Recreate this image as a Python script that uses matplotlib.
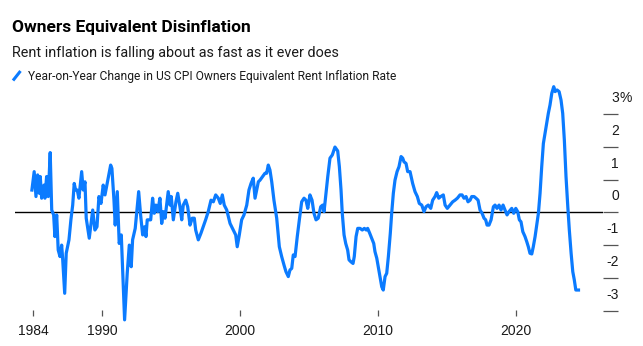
import matplotlib
matplotlib.use("Agg")
import matplotlib.pyplot as plt
import matplotlib.transforms as mtransforms
from matplotlib.lines import Line2D

# Year-on-year change in the US CPI owners' equivalent rent inflation rate (pct points)
dates = [
    1984.91, 1985.09, 1985.22, 1985.34, 1985.46, 1985.53, 1985.63, 1985.80, 1985.87, 1985.99,
    1986.11, 1986.25, 1986.36, 1986.50, 1986.59, 1986.72, 1986.83, 1986.96, 1987.08, 1987.15,
    1987.30, 1987.41, 1987.61, 1987.75, 1987.88, 1987.99, 1988.09, 1988.21, 1988.33, 1988.53,
    1988.64, 1988.77, 1988.86, 1989.08, 1989.33, 1989.49, 1989.64, 1989.78, 1989.93, 1990.09,
    1990.22, 1990.63, 1990.72, 1990.87, 1990.96, 1991.11, 1991.25, 1991.40, 1991.64, 1991.83,
    1991.98, 1992.12, 1992.22, 1992.41, 1992.66, 1992.80, 1992.95, 1993.09, 1993.19, 1993.28,
    1993.53, 1993.67, 1993.79, 1993.91, 1994.04, 1994.20, 1994.33, 1994.44, 1994.57, 1994.80,
    1994.93, 1995.02, 1995.17, 1995.36, 1995.49, 1995.65, 1995.78, 1995.89, 1996.07, 1996.21,
    1996.38, 1996.54, 1996.69, 1996.79, 1996.98, 1997.17, 1997.34, 1997.51, 1997.70, 1997.90,
    1998.07, 1998.24, 1998.43, 1998.57, 1998.72, 1998.86, 1999.04, 1999.28, 1999.51, 1999.69,
    1999.80, 1999.95, 2000.12, 2000.29, 2000.49, 2000.65, 2000.80, 2000.96, 2001.09, 2001.21,
    2001.33, 2001.45, 2001.64, 2001.81, 2001.93, 2002.05, 2002.17, 2002.30, 2002.46, 2002.66,
    2002.85, 2003.02, 2003.19, 2003.33, 2003.50, 2003.62, 2003.75, 2003.86, 2003.99, 2004.15,
    2004.30, 2004.47, 2004.64, 2004.78, 2004.91, 2005.07, 2005.22, 2005.36, 2005.51, 2005.67,
    2005.85, 2005.99, 2006.09, 2006.36, 2006.52, 2006.69, 2006.88, 2007.08, 2007.20, 2007.32,
    2007.41, 2007.54, 2007.66, 2007.80, 2007.90, 2008.04, 2008.19, 2008.28, 2008.41, 2008.53,
    2008.70, 2008.86, 2009.01, 2009.15, 2009.25, 2009.40, 2009.54, 2009.69, 2009.78, 2009.91,
    2010.02, 2010.14, 2010.27, 2010.38, 2010.51, 2010.63, 2010.75, 2010.89, 2010.99, 2011.11,
    2011.23, 2011.38, 2011.52, 2011.67, 2011.79, 2011.88, 2012.03, 2012.15, 2012.32, 2012.51,
    2012.68, 2012.85, 2012.99, 2013.17, 2013.33, 2013.48, 2013.64, 2013.82, 2013.96, 2014.13,
    2014.25, 2014.40, 2014.54, 2014.73, 2014.86, 2015.02, 2015.22, 2015.41, 2015.58, 2015.75,
    2015.94, 2016.09, 2016.23, 2016.38, 2016.52, 2016.67, 2016.79, 2016.96, 2017.10, 2017.25,
    2017.39, 2017.54, 2017.68, 2017.80, 2017.90, 2018.04, 2018.19, 2018.36, 2018.48, 2018.62,
    2018.77, 2018.91, 2019.06, 2019.20, 2019.35, 2019.49, 2019.69, 2019.83, 2019.98, 2020.12,
    2020.24, 2020.36, 2020.49, 2020.65, 2020.78, 2020.89, 2021.01, 2021.14, 2021.25, 2021.38,
    2021.50, 2021.62, 2021.74, 2021.86, 2021.98, 2022.10, 2022.22, 2022.34, 2022.46, 2022.59,
    2022.73, 2022.83, 2022.97, 2023.12, 2023.26, 2023.38, 2023.50, 2023.62, 2023.75, 2023.86,
    2023.99, 2024.11, 2024.22, 2024.33, 2024.64,
]
values = [
    0.63, 1.24, 0.48, 1.14, 0.58, 1.09, 0.43, 0.83, 0.43, 1.09,
    0.48, 1.82, 0.07, -0.08, -0.74, -0.08, -1.15, -1.35, -1.00, -1.40,
    -2.47, -1.25, -0.84, -0.23, 0.22, 0.88, 0.68, 0.68, 0.43, 1.24,
    0.68, 0.93, -0.18, -0.79, 0.07, -0.54, -0.44, 0.48, 0.27, 0.83,
    0.53, 1.44, 1.34, 0.37, -0.39, 0.63, -0.95, -0.69, -3.28, -1.86,
    -1.00, -1.66, -0.84, -0.49, 0.63, -0.08, -0.69, -0.44, -0.74, -0.23,
    -0.23, 0.43, -0.03, 0.22, 0.02, 0.43, -0.34, 0.02, -0.18, 0.63,
    0.22, 0.48, -0.23, 0.32, 0.58, 0.17, -0.23, 0.22, 0.37, 0.17,
    -0.39, -0.18, -0.18, -0.54, -0.84, -0.64, -0.44, -0.23, 0.02, 0.37,
    0.32, 0.53, 0.43, 0.27, 0.53, 0.22, 0.07, -0.34, -0.54, -0.69,
    -1.05, -0.69, -0.23, -0.08, 0.22, 0.68, 0.88, 1.04, 0.43, 0.68,
    0.93, 0.98, 1.09, 1.19, 1.19, 1.44, 1.29, 0.93, 0.37, -0.18,
    -1.05, -1.35, -1.61, -1.81, -1.96, -1.76, -1.71, -1.30, -1.35, -0.74,
    -0.23, 0.32, 0.43, 0.37, 0.12, 0.53, 0.37, -0.03, -0.23, -0.18,
    0.17, 0.22, 0.02, 1.09, 1.65, 1.75, 1.99, 1.87, 1.39, 0.68,
    -0.03, -0.69, -0.95, -1.15, -1.45, -1.51, -1.56, -1.35, -0.74, -0.49,
    -0.49, -0.54, -0.49, -0.54, -0.49, -0.64, -0.79, -0.95, -1.20, -1.40,
    -1.66, -1.96, -2.27, -2.37, -1.96, -1.86, -1.35, -0.64, -0.03, 0.58,
    0.98, 1.24, 1.39, 1.70, 1.65, 1.54, 1.49, 1.24, 1.24, 0.88,
    0.63, 0.48, 0.27, 0.22, 0.02, 0.17, 0.22, 0.12, 0.37, 0.48,
    0.60, 0.43, 0.48, 0.53, 0.22, 0.12, 0.22, 0.32, 0.37, 0.43,
    0.53, 0.53, 0.43, 0.48, 0.32, 0.37, 0.48, 0.48, 0.43, 0.37,
    0.07, -0.03, -0.18, -0.23, -0.39, -0.39, -0.23, 0.17, 0.22, 0.12,
    0.22, 0.07, 0.22, 0.07, -0.08, 0.02, 0.12, -0.03, 0.12, 0.02,
    -0.23, -0.29, -0.59, -0.74, -0.90, -1.05, -1.25, -1.27, -1.05, -0.74,
    -0.39, -0.03, 0.58, 1.39, 2.10, 2.41, 2.71, 3.02, 3.27, 3.63,
    3.83, 3.68, 3.73, 3.68, 3.42, 3.02, 2.20, 1.09, 0.17, -0.54,
    -1.25, -1.81, -2.06, -2.37, -2.37,
]

x_tick_pos = [1985.0, 1990.0, 2000.0, 2010.0, 2020.0]
x_tick_labels = ["1984", "1990", "2000", "2010", "2020"]
y_ticks = [3, 2, 1, 0, -1, -2, -3]
y_tick_labels = ["3", "2", "1", "0", "-1", "-2", "-3"]

title = "Owners Equivalent Disinflation"
subtitle = "Rent inflation is falling about as fast as it ever does"
series_name = "Year-on-Year Change in US CPI Owners Equivalent Rent Inflation Rate"

LINE_BLUE = "#0b7bff"
TEXT = "#1a1a1a"
TICK = "#555555"
FONT = "Liberation Sans"
HEAD_FONT = "Roboto"

W, H = 643, 346
fig = plt.figure(figsize=(W / 100, H / 100), dpi=100)
fig.patch.set_facecolor("white")

def fx(px):
    return px / W

def fy(py):
    return 1 - py / H

ax = fig.add_axes([fx(15), fy(316), fx(603) - fx(15), fy(80) - fy(316)])
ax.set_xlim(1983.70, 2026.30)
ax.set_ylim(-3.162, 4.034)
for s in ax.spines.values():
    s.set_visible(False)

ax.axhline(0, color="black", lw=1.0, zorder=2)
ax.plot(dates, values, color=LINE_BLUE, lw=2.3, solid_joinstyle="round",
        solid_capstyle="butt", clip_on=False, zorder=3)

ax.set_xticks(x_tick_pos)
ax.set_xticklabels(x_tick_labels)
ax.tick_params(axis="x", direction="in", length=4.3, width=0.9, color=TICK,
               pad=6, labelsize=10, labelcolor=TEXT)
for lab in ax.get_xticklabels():
    lab.set_fontfamily(FONT)

ax.yaxis.tick_right()
ax.set_yticks(y_ticks)
ax.set_yticklabels([])
ax.tick_params(axis="y", direction="out", length=11, width=0.9, color=TICK, pad=0)

# value labels sit above each right-hand tick, numbers right-aligned
ytrans = ax.get_yaxis_transform()
for v, lab in zip(y_ticks, y_tick_labels):
    t = mtransforms.offset_copy(ytrans, fig=fig, x=16, y=9, units="dots")
    ax.text(1.0, v, lab, transform=t, ha="right", va="bottom", fontsize=10,
            color=TEXT, family=FONT)
    if v == y_ticks[0]:
        ax.text(1.0, v, "%", transform=t, ha="left", va="bottom", fontsize=10,
                color=TEXT, family=FONT)


def header_text(x0, base, s, width_px, size, **kw):
    """Place a header line and shrink/grow its size to span the given width."""
    t = fig.text(fx(x0), fy(base), s, fontsize=size, family=HEAD_FONT,
                 fontstretch="condensed", va="baseline", ha="left", **kw)
    r = fig.canvas.get_renderer()
    w = t.get_window_extent(renderer=r).width
    t.set_fontsize(size * width_px / w)
    return t


header_text(12.5, 31.7, title, 240, 14, fontweight="bold", color="black")
header_text(12.3, 56.5, subtitle, 323, 11, color=TEXT)
header_text(28.3, 80, series_name, 366, 10, color=TEXT)
fig.add_artist(Line2D([fx(13), fx(20.5)], [fy(80.5), fy(71)], color=LINE_BLUE,
                      lw=2.2, solid_capstyle="butt", transform=fig.transFigure))

fig.savefig("out.png", dpi=100, facecolor="white")
